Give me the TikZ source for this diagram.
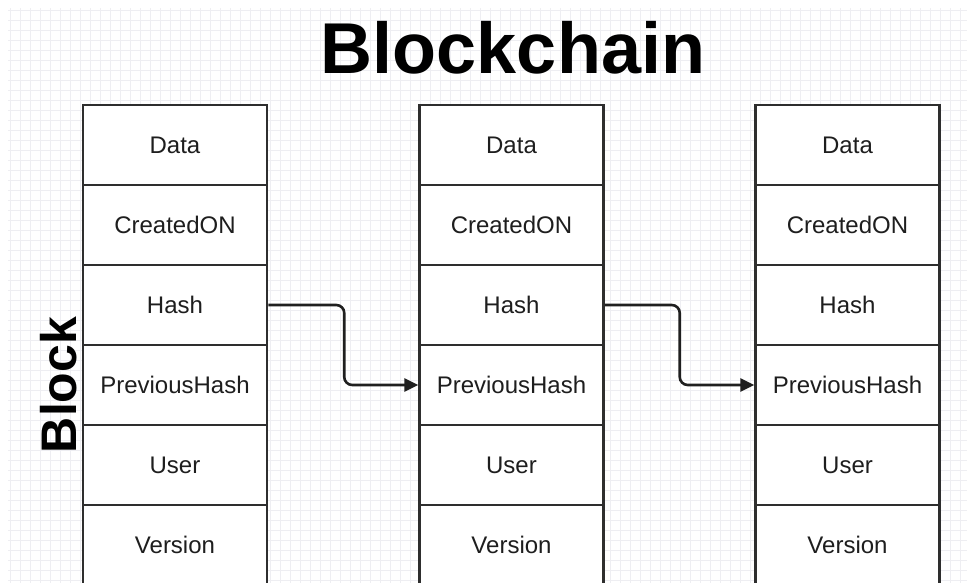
\documentclass[tikz,border=0pt]{standalone}
\usepackage{fontspec}
\setmainfont{Liberation Sans}
\usetikzlibrary{arrows.meta}
\definecolor{gridc}{HTML}{EEEEF2}
\definecolor{linec}{HTML}{2E2E2E}
\definecolor{textc}{HTML}{1E1E1E}
\tikzset{
  cell/.style={draw=linec, line width=2.5pt, fill=white, minimum width=184pt, minimum height=80pt,
    inner sep=0pt, font=\fontsize{24}{27}\selectfont, text=textc},
  link/.style={draw=black!88, line width=2.6pt, rounded corners=8pt,
    -{Triangle[length=14pt,width=13pt]}},
}
\begin{document}
\begin{tikzpicture}[x=1pt,y=-1pt]
\useasboundingbox (0,0) rectangle (967,583);
\fill[white] (0,0) rectangle (967,583);
\clip (0,0) rectangle (967,583);
\draw[gridc, line width=0.8pt, step=10pt] (8,8) grid (967,583);
% title
\node[font=\bfseries\fontsize{72}{80}\selectfont, text=black, anchor=base] (title) at (513,74) {Blockchain};
\node[font=\bfseries\fontsize{50}{56}\selectfont, text=black, rotate=90, anchor=base] (blocklbl) at (76,385) {Block};
% blocks
\foreach \b/\cx in {1/175, 2/511.5, 3/847.5} {
  \foreach \r/\t in {1/Data, 2/CreatedON, 3/Hash, 4/PreviousHash, 5/User, 6/Version} {
    \node[cell] (b\b r\r) at (\cx, 65+80*\r) {\t};
  }
}
\draw[link] (b1r3.east) -- ++(76,0) |- (b2r4.west);
\draw[link] (b2r3.east) -- ++(75,0) |- (b3r4.west);
\end{tikzpicture}
\end{document}
